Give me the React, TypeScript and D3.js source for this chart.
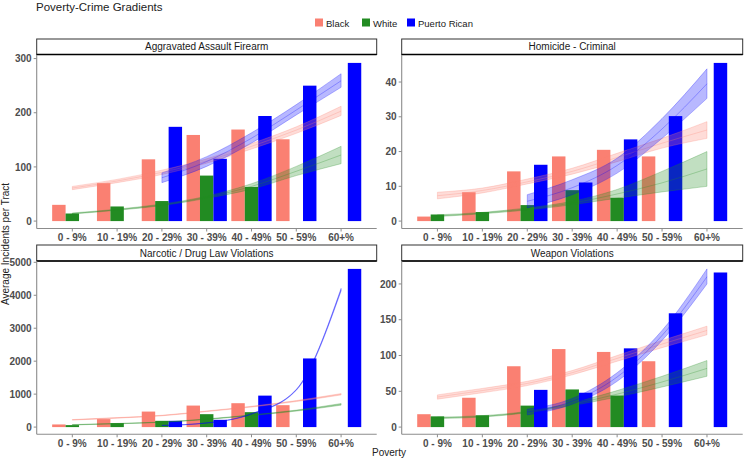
import React from "react";
import * as d3 from "d3";

const categories = ["0 - 9%", "10 - 19%", "20 - 29%", "30 - 39%", "40 - 49%", "50 - 59%", "60+%"];
const groups = ["Black", "White", "Puerto Rican"];
const groupColors = ["#FA8072", "#228B22", "#0000FF"];

// Aggravated Assault Firearm
const aafBlack = [30, 70, 114, 159, 169, 151, null];
const aafWhite = [14, 27, 37, 84, 63, null, null];
const aafPR = [null, null, 174, 115, 194, 250, 292];
const aafFitBlack = [61, 74, 90, 111, 138, 168, 203];
const aafLoBlack = [58, 71, 86, 107, 133, 162, 195];
const aafHiBlack = [64, 77, 94, 115, 143, 174, 212];
const aafFitWhite = [14, 21, 30, 44, 64, 92, 122];
const aafLoWhite = [13, 20, 28.5, 42, 59, 84, 106];
const aafHiWhite = [15, 22, 31.5, 46, 69, 101, 138];
const aafFitPR = [null, null, 80, 110, 153, 205, 259];
const aafLoPR = [null, null, 71, 101, 144, 196, 247];
const aafHiPR = [null, null, 89, 119, 163, 215, 272];

// Homicide - Criminal
const homBlack = [1.3, 8.3, 14.3, 18.6, 20.5, 18.6, null];
const homWhite = [1.9, 2.6, 4.6, 8.9, 6.7, null, null];
const homPR = [null, null, 16.2, 11.1, 23.5, 30.2, 45.5];
const homFitBlack = [7.3, 8.8, 11.3, 14.3, 18.3, 22.4, 26.2];
const homLoBlack = [6.4, 8.1, 10.7, 13.5, 17.1, 21, 23.8];
const homHiBlack = [8.3, 9.5, 12.1, 15.2, 19.5, 23.8, 28.6];
const homFitWhite = [1.5, 2.3, 3.5, 5.2, 7.8, 11, 15];
const homLoWhite = [1.3, 2.1, 3.2, 4.7, 6.6, 8.4, 10];
const homHiWhite = [1.8, 2.5, 3.8, 5.7, 9.1, 14.3, 20];
const homFitPR = [null, null, 5.7, 9.6, 16, 26.5, 39.5];
const homLoPR = [null, null, 3.8, 7.6, 13.8, 23.8, 35.3];
const homHiPR = [null, null, 7.6, 11.9, 18.1, 29.5, 43.8];

// Narcotic / Drug Law Violations
const narBlack = [80, 242, 471, 653, 725, 665, null];
const narWhite = [60, 121, 190, 392, 453, null, null];
const narPR = [null, null, 190, 220, 955, 2083, 4800];
const narFitBlack = [220, 280, 350, 480, 620, 790, 996];
const narLoBlack = [212, 272, 342, 470, 608, 775, 975];
const narHiBlack = [228, 288, 358, 490, 632, 805, 1017];
const narFitWhite = [70, 105, 150, 240, 360, 500, 690];
const narLoWhite = [64, 99, 145, 232, 349, 485, 665];
const narHiWhite = [76, 111, 155, 248, 371, 515, 715];
const narFitPR = [null, null, 50, 125, 400, 1130, 4170];
const narLoPR = [null, null, 48, 121, 392, 1115, 4130];
const narHiPR = [null, null, 52, 129, 408, 1145, 4210];

// Weapon Violations
const weaBlack = [18, 41, 85, 109, 105, 92, null];
const weaWhite = [15, 16.5, 30, 52.6, 44, null, null];
const weaPR = [null, null, 52, 48, 110, 159, 216];
const weaFitBlack = [42, 51, 61, 76, 96, 116, 135];
const weaLoBlack = [39, 48, 58, 73, 92, 111, 129];
const weaHiBlack = [45, 54, 64, 79, 100, 121, 141];
const weaFitWhite = [13, 15, 21, 32, 46, 63, 82];
const weaLoWhite = [12, 14, 20, 30, 42, 56, 71];
const weaHiWhite = [14, 16, 22, 34, 51, 71, 93];
const weaFitPR = [null, null, 21, 36, 70, 128, 210];
const weaLoPR = [null, null, 17, 32, 64, 121, 200];
const weaHiPR = [null, null, 25, 40, 76, 135, 221];

type S = (number | null)[];
interface PanelSpec {
  title: string;
  bars: S[];
  fit: S[];
  lo: S[];
  hi: S[];
  tickCount: number;
}

const panels: PanelSpec[] = [
  { title: "Aggravated Assault Firearm", bars: [aafBlack, aafWhite, aafPR], fit: [aafFitBlack, aafFitWhite, aafFitPR], lo: [aafLoBlack, aafLoWhite, aafLoPR], hi: [aafHiBlack, aafHiWhite, aafHiPR], tickCount: 3 },
  { title: "Homicide - Criminal", bars: [homBlack, homWhite, homPR], fit: [homFitBlack, homFitWhite, homFitPR], lo: [homLoBlack, homLoWhite, homLoPR], hi: [homHiBlack, homHiWhite, homHiPR], tickCount: 5 },
  { title: "Narcotic / Drug Law Violations", bars: [narBlack, narWhite, narPR], fit: [narFitBlack, narFitWhite, narFitPR], lo: [narLoBlack, narLoWhite, narLoPR], hi: [narHiBlack, narHiWhite, narHiPR], tickCount: 5 },
  { title: "Weapon Violations", bars: [weaBlack, weaWhite, weaPR], fit: [weaFitBlack, weaFitWhite, weaFitPR], lo: [weaLoBlack, weaLoWhite, weaLoPR], hi: [weaHiBlack, weaHiWhite, weaHiPR], tickCount: 5 },
];

const FONT = "'Liberation Sans', Arial, Helvetica, sans-serif";
const W = 744;
const H = 460;
const colX: [number, number][] = [[36.7, 376.7], [401.7, 742.7]];
const rowY = [
  { stripTop: 39, stripBottom: 54.5, top: 55, bottom: 229, axisY: 228.5 },
  { stripTop: 245, stripBottom: 261, top: 261, bottom: 435, axisY: 434.3 },
];
const BAR_W = 0.3;
const offsets = [-0.3, 0, 0.3];

type P = { i: number; fit: number; lo: number; hi: number };

function Panel({ spec, col, row }: { spec: PanelSpec; col: number; row: number }) {
  const [x0, x1] = colX[col];
  const r = rowY[row];
  const n = categories.length;
  const lowEdge = 1 - 0.45;
  const highEdge = n + 0.45;
  const padX = (highEdge - lowEdge) * 0.05;
  const x = d3.scaleLinear().domain([lowEdge - padX, highEdge + padX]).range([x0, x1]);

  const allVals: number[] = [];
  spec.bars.forEach((s) => s.forEach((v) => v != null && allVals.push(v)));
  spec.hi.forEach((s) => s.forEach((v) => v != null && allVals.push(v)));
  const maxV = d3.max(allVals) as number;
  const padY = maxV * 0.05;
  const y = d3.scaleLinear().domain([-padY, maxV + padY]).range([r.bottom, r.top]);
  const yTicks = y.ticks(spec.tickCount).filter((t) => t >= 0);

  const area = d3
    .area<P>()
    .x((d) => x(d.i + 1))
    .y0((d) => y(d.lo))
    .y1((d) => y(d.hi))
    .curve(d3.curveMonotoneX);
  const fitLine = d3
    .line<P>()
    .x((d) => x(d.i + 1))
    .y((d) => y(d.fit))
    .curve(d3.curveMonotoneX);

  return (
    <g>
      {/* strip */}
      <rect x={x0} y={r.stripTop} width={x1 - x0} height={r.stripBottom - r.stripTop} fill="#ffffff" stroke="#333333" strokeWidth={1} />
      <line x1={x0} x2={x1} y1={r.stripBottom} y2={r.stripBottom} stroke="#000000" strokeWidth={1.5} />
      <text x={(x0 + x1) / 2} y={(r.stripTop + r.stripBottom) / 2 + 3.6} textAnchor="middle" fontSize={10} fill="#1a1a1a" fontFamily={FONT}>
        {spec.title}
      </text>
      {/* bars */}
      {spec.bars.map((s, gi) =>
        s.map((v, i) =>
          v == null ? null : (
            <rect
              key={`b${gi}-${i}`}
              x={x(i + 1 + offsets[gi] - BAR_W / 2)}
              width={x(BAR_W) - x(0)}
              y={y(v)}
              height={y(0) - y(v)}
              fill={groupColors[gi]}
            />
          )
        )
      )}
      {/* ribbons */}
      {spec.fit.map((s, gi) => {
        const pts = s
          .map((v, i) => (v == null ? null : { i, fit: v, lo: spec.lo[gi][i] as number, hi: spec.hi[gi][i] as number }))
          .filter((d) => d != null) as P[];
        const c = groupColors[gi];
        return (
          <g key={`r${gi}`}>
            <path d={area(pts) || ""} fill={c} fillOpacity={0.28} stroke={c} strokeOpacity={0.45} strokeWidth={0.6} />
            <path d={fitLine(pts) || ""} fill="none" stroke={c} strokeOpacity={0.4} strokeWidth={0.7} />
          </g>
        );
      })}
      {/* axes */}
      <line x1={x0} x2={x0} y1={r.top} y2={r.axisY} stroke="#8c8c8c" strokeWidth={1.1} />
      <line x1={x0} x2={x1} y1={r.axisY} y2={r.axisY} stroke="#8c8c8c" strokeWidth={1.1} />
      {yTicks.map((t) => (
        <g key={`yt${t}`}>
          <line x1={x0 - 3} x2={x0} y1={y(t)} y2={y(t)} stroke="#8c8c8c" strokeWidth={1} />
          <text x={x0 - 5} y={y(t) + 3.6} textAnchor="end" fontSize={10} fontWeight="bold" fill="#4d4d4d" fontFamily={FONT}>
            {t}
          </text>
        </g>
      ))}
      {categories.map((c, i) => (
        <g key={`xt${i}`}>
          <line x1={x(i + 1)} x2={x(i + 1)} y1={r.axisY} y2={r.axisY + 3} stroke="#8c8c8c" strokeWidth={1} />
          <text x={x(i + 1)} y={r.axisY + 12.5} textAnchor="middle" fontSize={10} fontWeight="bold" fill="#4d4d4d" fontFamily={FONT}>
            {c}
          </text>
        </g>
      ))}
    </g>
  );
}

const legendX = [315, 362, 407];

export default function App() {
  return (
    <svg width={W} height={H} style={{ position: "absolute", left: 0, top: 0, background: "#ffffff" }} fontFamily={FONT}>
      <rect x={0} y={0} width={W} height={H} fill="#ffffff" />
      <text x={36} y={10.5} fontSize={11.5} fill="#222222">Poverty-Crime Gradients</text>
      {groups.map((g, i) => (
        <g key={g}>
          <rect x={legendX[i]} y={18.5} width={8} height={8} fill={groupColors[i]} />
          <text x={legendX[i] + 11} y={26.5} fontSize={9.5} fill="#1a1a1a">{g}</text>
        </g>
      ))}
      {panels.map((p, i) => (
        <Panel key={p.title} spec={p} col={i % 2} row={Math.floor(i / 2)} />
      ))}
      <text transform="translate(8.5,244) rotate(-90)" textAnchor="middle" fontSize={10} fill="#222222">
        Average Incidents per Tract
      </text>
      <text x={389} y={456} textAnchor="middle" fontSize={10} fill="#222222">Poverty</text>
    </svg>
  );
}
